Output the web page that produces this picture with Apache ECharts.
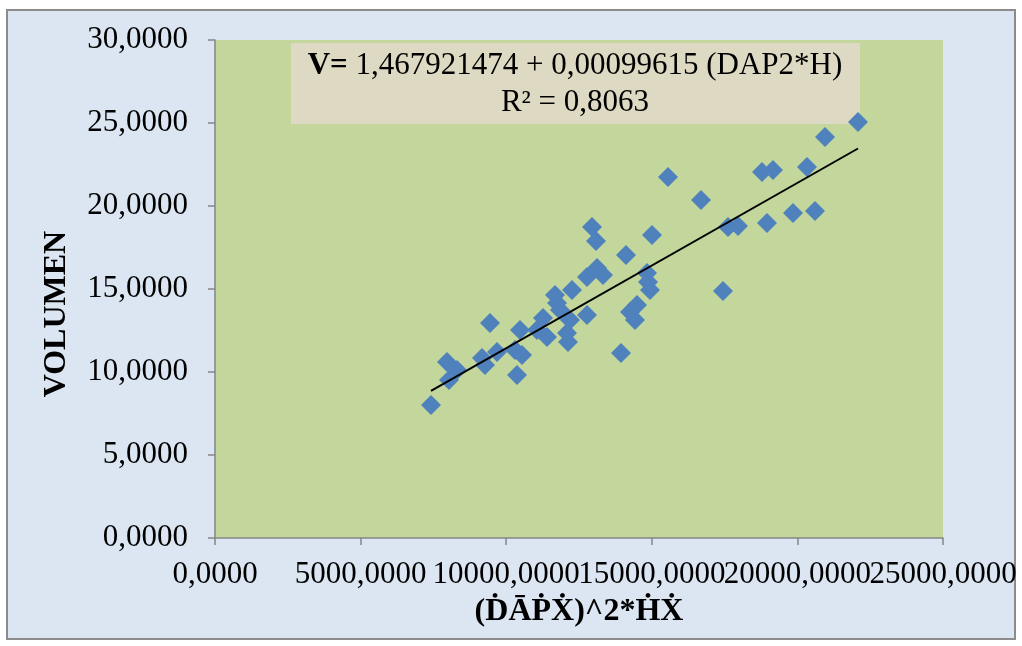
<!DOCTYPE html>
<html>
<head>
<meta charset="utf-8">
<script src="https://cdn.jsdelivr.net/npm/echarts@6/dist/echarts.min.js"></script>
<style>
  html, body { margin: 0; padding: 0; background: #ffffff; }
  #chart { width: 1022px; height: 646px; }
</style>
</head>
<body>
<div id="chart"></div>
<script>
// DAP^2*H values (x) and volumen (y)
var volX = [7418, 7967, 8310, 8036, 9444, 9169, 9272, 9684, 10371, 10474,
            10302, 10543, 11264, 11058, 11401, 11676, 11745, 11848, 12088, 12122,
            12191, 12260, 12775, 12775, 13118, 13324, 14114, 13942, 14251, 14492,
            14423, 14835, 14870, 14938, 12946, 13084, 15007, 15556, 16690, 17445,
            17617, 17960, 18956, 18784, 19162, 19849, 20330, 20604, 20948, 22081];
var volY = [8.01, 10.60, 10.12, 9.52, 12.95, 10.84, 10.42, 11.20, 9.82, 12.53,
            11.33, 11.02, 13.25, 12.53, 12.11, 14.64, 14.16, 13.73, 12.35, 11.81,
            13.13, 14.94, 13.43, 15.72, 16.27, 15.84, 17.05, 11.14, 13.61, 14.04,
            13.13, 15.96, 15.42, 14.94, 18.73, 17.89, 18.25, 21.75, 20.36, 14.88,
            18.73, 18.80, 18.98, 22.05, 22.17, 19.58, 22.35, 19.70, 24.16, 25.06];

// regression from the chart label
var interceptA = 1.467921474;
var slopeB = 0.00099615;
var rSquared = 0.8063;

var xTicks = [0, 25000, 5000];   // min, max, step
var yTicks = [0, 30, 5];

function comma(v) { return String(v).replace('.', ','); }
function fmt4(v) { return v.toFixed(4).replace('.', ','); }

var points = volX.map(function (x, i) { return [x, volY[i]]; });
var xMin = Math.min.apply(null, volX);
var xMax = Math.max.apply(null, volX);
var trend = [[xMin, interceptA + slopeB * xMin], [xMax, interceptA + slopeB * xMax]];

var serif = '"Liberation Serif", "Times New Roman", serif';
var labelStyle = { fontFamily: serif, fontSize: 31, color: '#000', margin: 21,
                   showMinLabel: true, showMaxLabel: true };

chart = echarts.init(document.getElementById('chart'));
chart.setOption({
    backgroundColor: '#ffffff',
    animation: false,
    grid: {
        left: 215, top: 40, right: 79, bottom: 108,
        show: true,
        backgroundColor: '#c3d69b',
        borderWidth: 0
    },
    xAxis: [
        {
            type: 'value',
            position: 'bottom',
            min: xTicks[0], max: xTicks[1], interval: xTicks[2],
            name: '(\u1E0A\u0100\u1E56\u1E8A)^2*\u1E22\u1E8A',
            nameLocation: 'middle',
            nameGap: 58,
            nameTextStyle: { fontFamily: serif, fontSize: 32, fontWeight: 'bold', color: '#000' },
            axisLine: { show: true, lineStyle: { color: '#868686', width: 1.5 } },
            axisTick: { show: true, inside: false, length: 7, lineStyle: { color: '#868686', width: 1.5 } },
            // last label is drawn by the second axis so ECharts does not drop its neighbour
            axisLabel: Object.assign({}, labelStyle, {
                formatter: function (v) { return v === xTicks[1] ? '' : fmt4(v); }
            }),
            splitLine: { show: false }
        },
        {
            type: 'value',
            position: 'bottom',
            offset: 0,
            min: xTicks[0], max: xTicks[1], interval: xTicks[2],
            axisLine: { show: false },
            axisTick: { show: false },
            axisLabel: Object.assign({}, labelStyle, {
                formatter: function (v) { return v === xTicks[1] ? fmt4(v) : ''; }
            }),
            splitLine: { show: false }
        }
    ],
    yAxis: {
        type: 'value',
        min: yTicks[0], max: yTicks[1], interval: yTicks[2],
        axisLine: { show: true, lineStyle: { color: '#868686', width: 1.5 } },
        axisTick: { show: true, inside: false, length: 7, lineStyle: { color: '#868686', width: 1.5 } },
        axisLabel: {
            fontFamily: serif, fontSize: 31, color: '#000', margin: 27, formatter: fmt4,
            showMinLabel: true, showMaxLabel: true
        },
        splitLine: { show: false }
    },
    graphic: [
        {
            type: 'rect', z: -100, silent: true,
            shape: { x: 7, y: 10, width: 1008, height: 629 },
            style: { fill: '#dce6f2', stroke: '#8c8c8c', lineWidth: 2 }
        },
        {
            type: 'text', z: 10, silent: true,
            x: 57, y: 314, rotation: Math.PI / 2,
            style: {
                text: 'VOLUMEN', fontFamily: serif, fontSize: 32, fontWeight: 'bold',
                fill: '#000', align: 'center', verticalAlign: 'middle'
            }
        },
        {
            type: 'rect', z: 1, silent: true,
            shape: { x: 291, y: 43, width: 569, height: 81 },
            style: { fill: '#ddd9c3' }
        },
        {
            type: 'text', z: 1, silent: true,
            x: 575, y: 84,
            style: {
                text: '{b|V=} ' + comma(interceptA) + ' + ' + comma(slopeB) + ' (DAP2*H)\nR\u00B2 = ' + comma(rSquared),
                fontFamily: serif, fontSize: 31, fill: '#000', lineHeight: 37,
                align: 'center', verticalAlign: 'middle',
                rich: { b: { fontFamily: serif, fontSize: 31, fontWeight: 'bold', lineHeight: 37 } }
            }
        }
    ],
    series: [
        {
            type: 'scatter',
            xAxisIndex: 0,
            z: 3,
            data: points,
            symbol: 'diamond',
            symbolSize: 20,
            itemStyle: { color: '#4f81bd', opacity: 1 }
        },
        {
            type: 'line',
            xAxisIndex: 0,
            z: 4,
            data: trend,
            symbol: 'none',
            lineStyle: { color: '#000', width: 2 }
        }
    ]
});
</script>
</body>
</html>
